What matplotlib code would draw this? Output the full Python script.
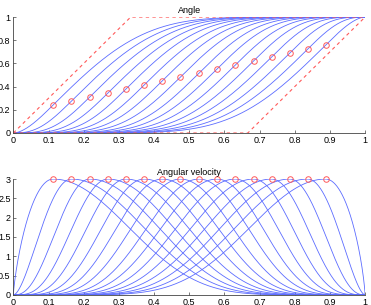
import numpy as np
import matplotlib
matplotlib.use('Agg')
import matplotlib.pyplot as plt

# values
peak_times = [0.113, 0.165, 0.217, 0.269, 0.320, 0.372, 0.423, 0.475,
              0.528, 0.579, 0.631, 0.683, 0.734, 0.786, 0.837, 0.888]
peak_angles = [0.241, 0.275, 0.310, 0.345, 0.379, 0.414, 0.448, 0.483,
               0.517, 0.552, 0.586, 0.621, 0.655, 0.690, 0.724, 0.759]
peak_velocity = 3.0
x_ticks = [0, 0.1, 0.2, 0.3, 0.4, 0.5, 0.6, 0.7, 0.8, 0.9, 1]
x_labels = ['0', '0.1', '0.2', '0.3', '0.4', '0.5', '0.6', '0.7', '0.8', '0.9', '1']
angle_ticks = [0, 0.2, 0.4, 0.6, 0.8, 1]
angle_labels = ['0', '0.2', '0.4', '0.6', '0.8', '1']
vel_ticks = [0, 0.5, 1, 1.5, 2, 2.5, 3]
vel_labels = ['0', '0.5', '1', '1.5', '2', '2.5', '3']

BLUE = '#5c6cff'
RED = '#ff5a5a'

plt.rcParams['font.family'] = ['Liberation Sans', 'DejaVu Sans']
plt.rcParams['font.size'] = 6.5

ugrid = np.linspace(0, 1, 2001)


def shape_exponent(ratio):
    # exponent q so that mean of (1-u^2)^q over [0,1] equals ratio
    lo, hi = 1e-3, 60.0
    for _ in range(60):
        q = 0.5 * (lo + hi)
        m = np.trapezoid((1 - ugrid ** 2) ** q, ugrid)
        if m > ratio:
            lo = q
        else:
            hi = q
    return q


def profile(tp, ap, t):
    qa = shape_exponent(ap / (peak_velocity * tp))
    qd = shape_exponent((1 - ap) / (peak_velocity * (1 - tp)))
    v = np.empty_like(t)
    left = t <= tp
    u = (tp - t[left]) / tp
    v[left] = peak_velocity * np.clip(1 - u ** 2, 0, 1) ** qa
    u = (t[~left] - tp) / (1 - tp)
    v[~left] = peak_velocity * np.clip(1 - u ** 2, 0, 1) ** qd
    ang = np.concatenate([[0], np.cumsum(0.5 * (v[1:] + v[:-1]) * np.diff(t))])
    return ang / ang[-1], v


t = np.linspace(0, 1, 1500)
fig = plt.figure(figsize=(3.71, 3.05), dpi=100)
ax1 = fig.add_axes([0.036, 0.564, 0.948, 0.380])
ax2 = fig.add_axes([0.036, 0.033, 0.948, 0.380])

for tp, ap in zip(peak_times, peak_angles):
    ang, vel = profile(tp, ap, t)
    ax1.plot(t, ang, color=BLUE, lw=0.6)
    ax2.plot(t, vel, color=BLUE, lw=0.6)

ax1.plot(t, np.minimum(peak_velocity * t, 1), color=RED, lw=0.8, ls=(0, (3, 3)))
ax1.plot(t, np.maximum(peak_velocity * t - (peak_velocity - 1), 0), color=RED,
         lw=0.8, ls=(0, (3, 3)))
ax1.plot(peak_times, peak_angles, 'o', ms=4, mfc='none', mec=RED, mew=0.7)
ax2.plot(peak_times, [peak_velocity] * len(peak_times), 'o', ms=4, mfc='none',
         mec=RED, mew=0.7, clip_on=False)

for ax, yt, yl, top, title in [(ax1, angle_ticks, angle_labels, 1, 'Angle'),
                               (ax2, vel_ticks, vel_labels, 3, 'Angular velocity')]:
    ax.set_xlim(0, 1)
    ax.set_ylim(0, top)
    ax.set_xticks(x_ticks)
    ax.set_xticklabels(x_labels)
    ax.set_yticks(yt)
    ax.set_yticklabels(yl)
    ax.spines['top'].set_visible(False)
    ax.spines['right'].set_visible(False)
    for s in ('left', 'bottom'):
        ax.spines[s].set_color('#444444')
        ax.spines[s].set_linewidth(0.6)
    ax.tick_params(direction='in', length=2.5, width=0.5, color='#444444', pad=2)
    ax.set_title(title, fontsize=6.5, pad=3)

fig.savefig('out.png', dpi=100)
